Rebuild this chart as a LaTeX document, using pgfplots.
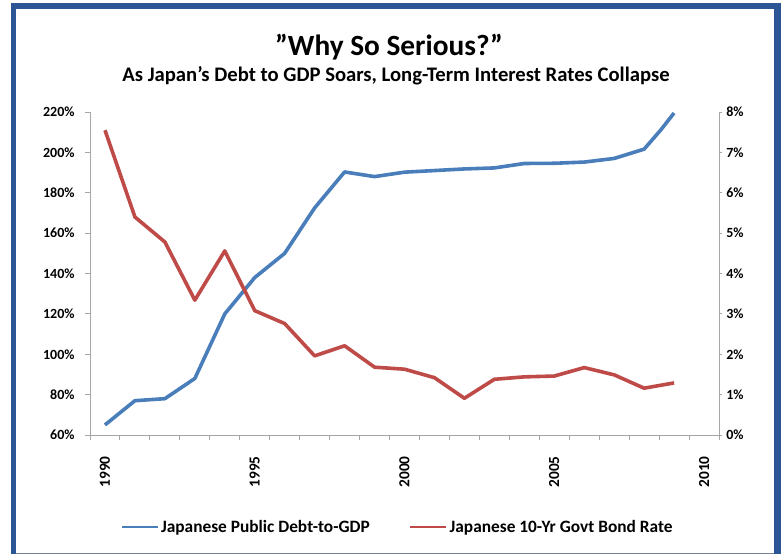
\documentclass[border=0pt]{standalone}
\usepackage{fontspec}
\setmainfont{Carlito}
\usepackage{pgfplots}
\pgfplotsset{compat=1.18}
\definecolor{serA}{HTML}{4A7EBB}
\definecolor{serB}{HTML}{BE4B48}
\definecolor{framec}{HTML}{2B5595}
\definecolor{axgray}{HTML}{A6A6A6}

\pgfplotstableread{
x debt
0 65
1 77
2 78
3 88
4 120
5 138
6 150
7 172.5
8 190.3
9 188
10 190.2
11 191
12 191.8
13 192.3
14 194.5
15 194.6
16 195.2
17 197
18 201.6
18.55 211
19 219.5
}\debt

\pgfplotstableread{
x rate
0 7.55
1 5.40
2 4.78
3 3.34
4 4.56
5 3.08
6 2.76
7 1.96
8 2.21
9 1.68
10 1.63
11 1.42
12 0.91
13 1.38
14 1.44
15 1.46
16 1.67
17 1.49
18 1.16
19 1.29
}\rate

\begin{document}
\begin{tikzpicture}
\useasboundingbox (0pt,0pt) rectangle (585.75pt,-415.5pt);
% frame
\fill[framec] (8.25pt,-415.5pt) rectangle (12pt,-2.5pt);
\fill[framec] (8.25pt,-2.5pt) rectangle (585.75pt,-7pt);
\fill[framec] (580.8pt,-2.5pt) rectangle (585.75pt,-415.5pt);
\draw[color=black!45!framec!60!white, line width=0.8pt] (12pt,-414.9pt) -- (580.8pt,-414.9pt);
% titles
\node[font=\bfseries\fontsize{22}{26}\selectfont, anchor=base] at (291.75pt,-41.5pt) {\symbol{34}Why So Serious?\symbol{34}};
\node[font=\bfseries\fontsize{15.5}{18}\selectfont, anchor=base] at (297pt,-61pt) {As Japan's Debt to GDP Soars, Long-Term Interest Rates Collapse};

\begin{axis}[
  at={(67.5pt,-326.25pt)}, anchor=south west,
  width=471.75pt, height=242.25pt, scale only axis,
  xmin=-0.5, xmax=20.5, ymin=60, ymax=220,
  axis x line*=bottom, axis y line*=left,
  axis line style={axgray, line width=0.75pt, -},
  ytick={60,80,...,220},
  yticklabels={60\%,80\%,100\%,120\%,140\%,160\%,180\%,200\%,220\%},
  xtick={0,5,10,15,20},
  xticklabels={1990,1995,2000,2005,2010},
  minor xtick={-0.5,0.5,...,20.5},
  major x tick style={draw=none},
  tick align=outside,
  tick style={axgray, line width=0.75pt},
  major tick length=3.5pt, minor tick length=3.5pt,
  ticklabel style={font=\bfseries\fontsize{10.5}{12}\selectfont},
  yticklabel style={xshift=-4.5pt},
  xticklabel style={font=\bfseries\fontsize{11.5}{13}\selectfont, yshift=-9pt, rotate=90, anchor=east},
]
\addplot[serA, line width=2.7pt, line join=round] table[x=x, y=debt] {\debt};
\end{axis}

\begin{axis}[
  at={(67.5pt,-326.25pt)}, anchor=south west,
  width=471.75pt, height=242.25pt, scale only axis,
  xmin=-0.5, xmax=20.5, ymin=0, ymax=8,
  axis x line=none, axis y line*=right,
  axis line style={axgray, line width=0.75pt, -},
  ytick={0,1,...,8},
  yticklabels={0\%,1\%,2\%,3\%,4\%,5\%,6\%,7\%,8\%},
  tick align=outside,
  tick style={axgray, line width=0.75pt},
  major tick length=2pt,
  ticklabel style={font=\bfseries\fontsize{10.5}{12}\selectfont},
  legend style={at={(0.49,-0.285)}, anchor=center, draw=none, fill=none,
    legend columns=2, font=\bfseries\fontsize{13}{15}\selectfont,
    /tikz/every even column/.append style={column sep=28pt}},
  legend image code/.code={\draw[#1, line width=0.9pt] (0pt,0pt) -- (27pt,0pt);},
]
\addlegendimage{serA, line width=2.7pt}
\addlegendentry{Japanese Public Debt-to-GDP}
\addplot[serB, line width=2.7pt, line join=round] table[x=x, y=rate] {\rate};
\addlegendentry{Japanese 10-Yr Govt Bond Rate}
\end{axis}
\end{tikzpicture}
\end{document}
